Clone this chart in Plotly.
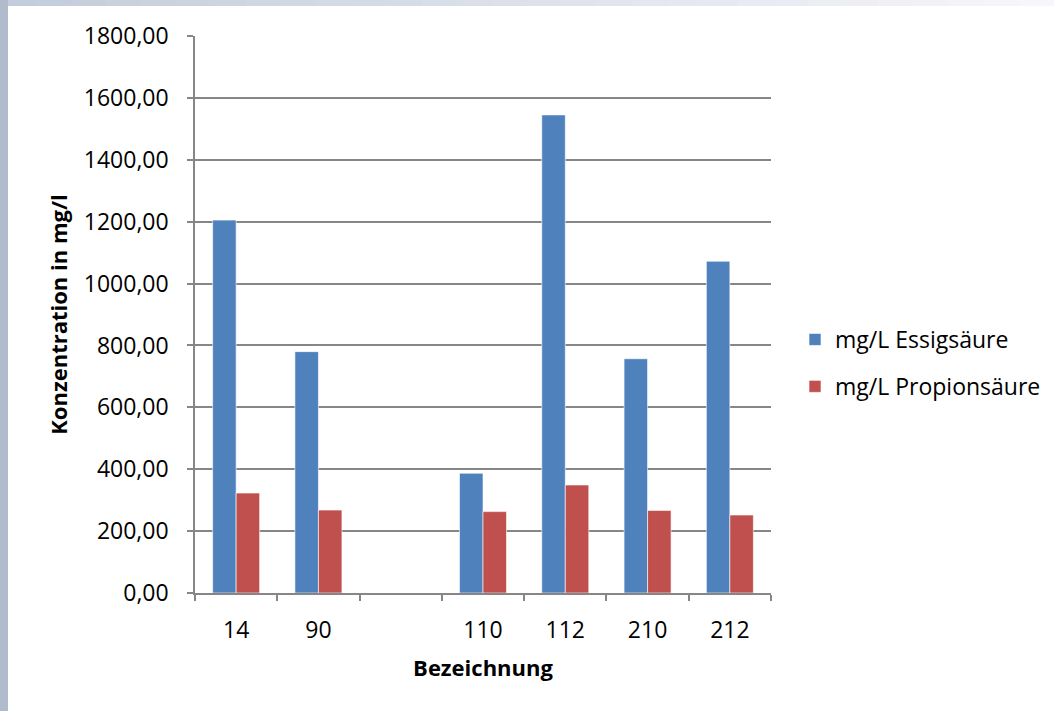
import plotly.graph_objects as go

categories = ["14", "90", " ", "110", "112", "210", "212"]
essig = [1205, 780, None, 387, 1545, 757, 1072]
propion = [323, 268, None, 263, 349, 267, 252]
y_ticks = [0, 200, 400, 600, 800, 1000, 1200, 1400, 1600, 1800]
y_ticklabels = ["0,00", "200,00", "400,00", "600,00", "800,00", "1000,00",
                "1200,00", "1400,00", "1600,00", "1800,00"]

W, H = 1054, 711
L, R, T, B = 195, 771, 36, 593
FONT = "Open Sans"
FS = 23

def px(p):
    return (p - L) / (R - L)

def py(p):
    return (B - p) / (B - T)

fig = go.Figure()
fig.add_trace(go.Bar(x=categories, y=essig, name="mg/L Essigsäure",
                     marker=dict(color="#4f81bd", line=dict(color="rgba(255,255,255,0.6)", width=1)),
                     legendgroup="a"))
fig.add_trace(go.Bar(x=categories, y=propion, name="mg/L Propionsäure",
                     marker=dict(color="#c0504d", line=dict(color="rgba(255,255,255,0.6)", width=1)),
                     legendgroup="b"))

shapes = []
# top gradient strip
n = 30
for i in range(n):
    t = i / (n - 1)
    r0, g0, b0 = 0xc4, 0xcd, 0xdb
    r1, g1, b1 = 0xf6, 0xf7, 0xfa
    c = "rgb(%d,%d,%d)" % (r0 + (r1 - r0) * t, g0 + (g1 - g0) * t, b0 + (b1 - b0) * t)
    x0 = i * W / n
    x1 = (i + 1) * W / n + 1
    shapes.append(dict(type="rect", xref="paper", yref="paper", x0=px(x0), x1=px(x1),
                       y0=py(6), y1=py(0), fillcolor=c, line=dict(width=0), layer="below"))
# left strip
shapes.append(dict(type="rect", xref="paper", yref="paper", x0=px(0), x1=px(8),
                   y0=py(H), y1=py(0), fillcolor="#b0bcce", line=dict(width=0), layer="below"))

fig.update_layout(
    width=W, height=H,
    margin=dict(l=L, r=W - R, t=T, b=H - B, autoexpand=False),
    paper_bgcolor="white", plot_bgcolor="white",
    barmode="group", bargap=0.4286, bargroupgap=0,
    font=dict(family=FONT, size=FS, color="black"),
    shapes=shapes,
    showlegend=True,
    legend=dict(x=px(795), xanchor="left", y=py(363), yanchor="middle",
                traceorder="grouped", tracegroupgap=14,
                font=dict(family=FONT, size=FS, color="black"),
                bgcolor="rgba(0,0,0,0)"),
    xaxis=dict(type="category", categoryorder="array", categoryarray=categories,
               tickson="boundaries", ticks="outside", ticklen=6, tickcolor="#868686",
               tickwidth=1.5, ticklabelstandoff=16,
               showline=True, linecolor="#868686", linewidth=1.5, showgrid=False,
               tickfont=dict(family=FONT, size=FS, color="black"),
               title=dict(text="<b>Bezeichnung</b>", standoff=16,
                          font=dict(family=FONT, size=22, color="black"))),
    yaxis=dict(range=[0, 1800], tickvals=y_ticks, ticktext=y_ticklabels,
               ticks="outside", ticklen=6, tickcolor="#868686", tickwidth=1.5,
               ticklabelstandoff=14,
               showline=True, linecolor="#868686", linewidth=1.5,
               showgrid=True, gridcolor="#868686", gridwidth=1.5,
               zeroline=False,
               tickfont=dict(family=FONT, size=FS, color="black"),
               title=dict(text="<b>Konzentration in mg/l</b>", standoff=10,
                          font=dict(family=FONT, size=22, color="black"))),
)

fig.write_html("out.html", config={"displayModeBar": False},
               post_script="document.body.style.margin='0';")
